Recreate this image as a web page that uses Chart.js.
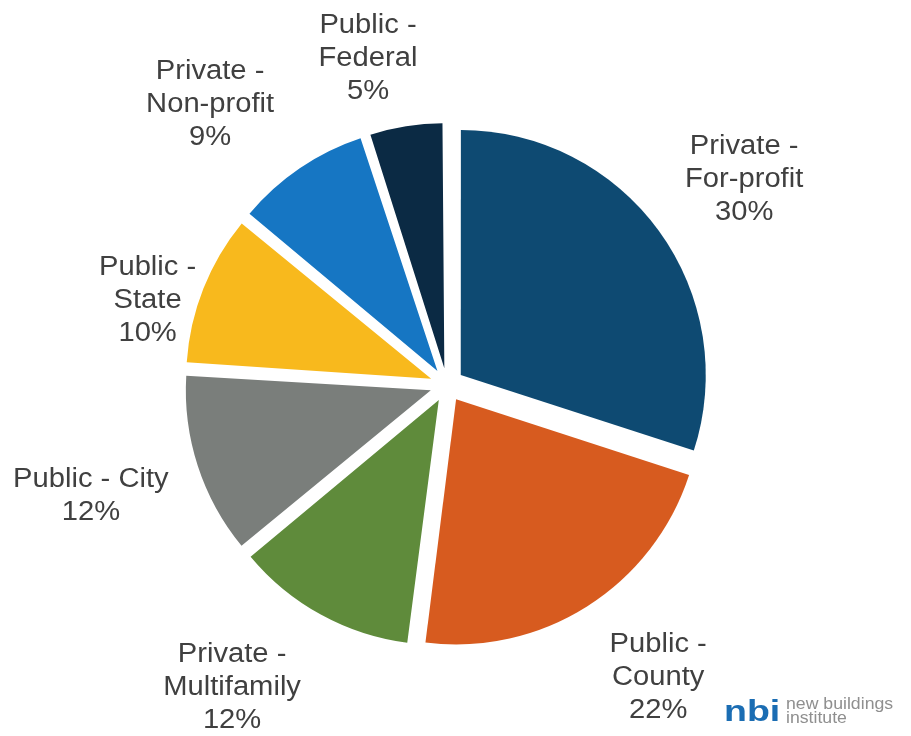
<!DOCTYPE html>
<html>
<head>
<meta charset="utf-8">
<script src="https://cdn.jsdelivr.net/npm/chart.js@4/dist/chart.umd.min.js"></script>
<style>
  html, body { margin: 0; padding: 0; background: #ffffff; }
  #wrap { position: relative; width: 911px; height: 736px; }
</style>
</head>
<body>
<div id="wrap"><canvas id="ownership" width="911" height="736"></canvas></div>
<script>
// Ownership categories (each entry is the label split into its lines)
const categories = [
  ['Private -', 'For-profit'],
  ['Public -', 'County'],
  ['Private -', 'Multifamily'],
  ['Public - City'],
  ['Public -', 'State'],
  ['Private -', 'Non-profit'],
  ['Public -', 'Federal']
];
// Share of buildings, percent
const shares = [30, 22, 12, 12, 10, 9, 5];
const sliceColors = ['#0e4a72', '#d75b1f', '#5f8b3b', '#7a7e7b', '#f8b91d', '#1676c3', '#0b2a44'];

// Label layout: angular nudge (degrees) and extra distance beyond the pie radius
const labelPlacement = [
  [1.4, 116], [-3.4, 116], [6.6, 126], [0.7, 128], [-5.9, 66], [-6.0, 122], [-4.6, 91]
];

const SLICE_OFFSET = 68;   // arcs are pushed out by SLICE_OFFSET / 4 px
const PIE_RADIUS = 245;

// Chart.js also grows the radius of narrow exploded slices; keep all slices the same radius.
const evenRadius = {
  id: 'evenRadius',
  afterDatasetsUpdate(chart) {
    const meta = chart.getDatasetMeta(0);
    const push = SLICE_OFFSET / 4;
    meta.data.forEach((arc) => {
      const fix = 1 - Math.sin(Math.min(Math.PI, arc.circumference));
      arc.outerRadius = arc.outerRadius - push * fix;
    });
  }
};

// Outside labels: category lines plus the percentage
const outsideLabels = {
  id: 'outsideLabels',
  afterDraw(chart) {
    const ctx = chart.ctx;
    const meta = chart.getDatasetMeta(0);
    const baseR = meta.controller.outerRadius;
    ctx.save();
    ctx.font = '27px "Liberation Sans", Arial, sans-serif';
    ctx.fillStyle = '#404040';
    ctx.textAlign = 'center';
    ctx.textBaseline = 'middle';
    const lineH = 33;
    meta.data.forEach((arc, i) => {
      const [dDeg, extra] = labelPlacement[i];
      const a = (arc.startAngle + arc.endAngle) / 2 + dDeg * Math.PI / 180;
      const dist = baseR + extra;
      const cx = arc.x + Math.cos(a) * dist;
      const cy = arc.y + Math.sin(a) * dist;
      const lines = categories[i].concat([shares[i] + '%']);
      lines.forEach((t, k) => {
        const y = cy + (k - (lines.length - 1) / 2) * lineH;
        ctx.save();
        ctx.translate(cx, y);
        ctx.scale(1.08, 1);
        ctx.fillText(t, 0, 0);
        ctx.restore();
      });
    });

    // nbi logo, bottom right
    ctx.textAlign = 'left';
    ctx.textBaseline = 'alphabetic';
    ctx.save();
    ctx.translate(724, 721);
    ctx.scale(1.25, 1);
    ctx.font = 'bold 30px "Liberation Sans", Arial, sans-serif';
    ctx.fillStyle = '#1b6db3';
    ctx.fillText('nbi', 0, 0);
    ctx.restore();
    ctx.save();
    ctx.font = '17px "Liberation Sans", Arial, sans-serif';
    ctx.fillStyle = '#8f8f8f';
    ctx.translate(786, 709);
    ctx.scale(1.04, 1);
    ctx.fillText('new buildings', 0, 0);
    ctx.fillText('institute', 0, 14);
    ctx.restore();
    ctx.restore();
  }
};

new Chart(document.getElementById('ownership'), {
  type: 'pie',
  data: {
    labels: categories,
    datasets: [{
      data: shares,
      backgroundColor: sliceColors,
      borderWidth: 0,
      offset: SLICE_OFFSET,
      hoverOffset: SLICE_OFFSET
    }]
  },
  options: {
    responsive: false,
    devicePixelRatio: 1,
    animation: false,
    radius: PIE_RADIUS,
    layout: { padding: { left: 0, right: 17, top: 34, bottom: 0 } },
    plugins: {
      legend: { display: false },
      tooltip: { enabled: false }
    },
    events: []
  },
  plugins: [evenRadius, outsideLabels]
});
</script>
</body>
</html>
